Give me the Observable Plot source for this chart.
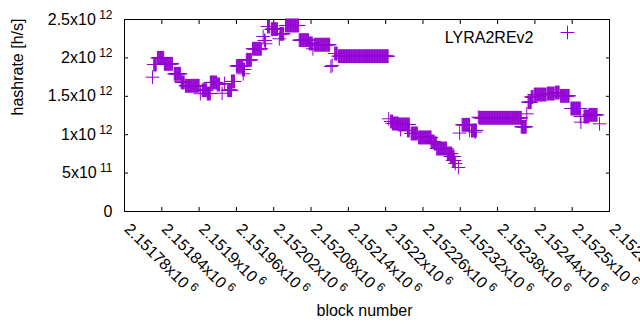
<!DOCTYPE html>
<html><head><meta charset="utf-8">
<script src="https://cdn.jsdelivr.net/npm/d3@7"></script>
<script src="https://cdn.jsdelivr.net/npm/@observablehq/plot@0.6"></script>
<style>
html,body{margin:0;padding:0;background:#fff;}
</style>
</head><body>
<div id="chart"></div>
<script>
// Series: runs of blocks sharing the same hashrate (first block, last block, hashrate in 1e12 h/s)
const seriesName = "LYRA2REv2";
const runFirst = [2151825,2151827,2151833,2151844,2151860,2151871,2151872,2151878,2151902,2151905,
                  2151913,2151918,2151929,2151937,2151941,2151946,2151952,2151960,2151970,2151971,
                  2151976,2151986,2152003,2152005,2152007,2152010,2152016,2152029,2152030,2152039,
                  2152061,2152077,2152083,2152085,2152112,2152114,2152118,2152124,2152205,2152208,
                  2152211,2152220,2152224,2152235,2152241,2152253,2152273,2152278,2152282,2152299,
                  2152304,2152308,2152312,2152317,2152319,2152323,2152335,2152338,2152344,2152349,
                  2152351,2152418,2152427,2152429,2152434,2152439,2152460,2152473,2152481,2152498,
                  2152513,2152514,2152519,2152527,2152544];
const runLast  = [2151825,2151831,2151843,2151857,2151870,2151871,2151876,2151900,2151902,2151912,
                  2151918,2151928,2151933,2151937,2151941,2151952,2151957,2151970,2151973,2151971,
                  2151984,2152000,2152003,2152006,2152007,2152013,2152026,2152029,2152036,2152060,
                  2152076,2152082,2152083,2152110,2152112,2152114,2152122,2152204,2152205,2152211,
                  2152220,2152238,2152224,2152238,2152251,2152273,2152278,2152282,2152298,2152306,
                  2152310,2152311,2152312,2152317,2152319,2152335,2152335,2152346,2152344,2152349,
                  2152418,2152426,2152427,2152434,2152437,2152458,2152471,2152479,2152495,2152513,
                  2152513,2152514,2152527,2152540,2152544];
const runHash  = [1.749,1.914,2.001,1.923,1.793,1.690,1.680,1.637,1.533,1.579,
                  1.536,1.680,1.654,1.540,1.667,1.579,1.693,1.895,1.849,1.793,
                  1.975,2.119,2.279,2.227,2.184,2.409,2.374,2.249,2.314,2.422,
                  2.231,2.188,2.119,2.172,1.888,1.902,2.057,2.022,1.207,1.172,
                  1.146,1.133,1.068,1.055,1.016,0.964,0.911,0.885,0.820,0.755,
                  0.716,0.664,0.625,0.573,1.022,1.129,1.055,1.055,1.033,1.228,
                  1.220,1.103,1.272,1.423,1.491,1.523,1.536,1.549,1.506,1.341,
                  1.237,1.163,1.237,1.259,1.142];

const xTicks = [2151780,2151840,2151900,2151960,2152020,2152080,2152140,
                2152200,2152260,2152320,2152380,2152440,2152500,2152560];
const yTicks = [0,5e11,1e12,1.5e12,2e12,2.5e12];
const xLabel = "block number";
const yLabel = "hashrate [h/s]";

const points = [];
runFirst.forEach((b0, i) => {
  for (let b = b0; b <= runLast[i]; b++) points.push({block: b, hashrate: runHash[i] * 1e12});
});

function sci(v) {
  if (v === 0) return "0";
  const e = Math.floor(Math.log10(v) + 1e-9);
  const m = +(v / Math.pow(10, e)).toFixed(6);
  return m + "x10^" + e;
}

const color = "#9400D3";
const chart = Plot.plot({
  width: 640, height: 330,
  marginLeft: 124, marginRight: 31, marginTop: 19, marginBottom: 119,
  style: {fontFamily: "'Liberation Sans', Arial, sans-serif", fontSize: "16px", color: "#000", background: "#fff"},
  x: {domain: [2151780, 2152560]},
  y: {domain: [0, 2.5e12]},
  marks: [
    Plot.axisY({ticks: yTicks, anchor: "left", tickSize: -4, tickFormat: () => "", label: null}),
    Plot.axisY({ticks: yTicks, anchor: "right", tickSize: -4, tickFormat: () => "", label: null}),
    Plot.axisX({ticks: xTicks, anchor: "bottom", tickSize: -4, tickFormat: () => "", label: null}),
    Plot.axisX({ticks: xTicks, anchor: "top", tickSize: -4, tickFormat: () => "", label: null}),
    Plot.axisY({ticks: yTicks, anchor: "left", tickSize: 0, tickPadding: 12, tickFormat: sci, label: null}),
    Plot.axisX({ticks: xTicks, anchor: "bottom", tickSize: 0, tickPadding: 15, tickRotate: 45,
                textAnchor: "start", lineAnchor: "middle", dx: 2.6, tickFormat: sci, label: null}),
    Plot.frame({stroke: "#000"}),
    Plot.dot(points, {x: "block", y: "hashrate", symbol: "plus", r: 4.5, stroke: color, strokeWidth: 1}),
    Plot.text([yLabel], {frameAnchor: "left", dx: -107, rotate: -90, text: d => d}),
    Plot.text([xLabel], {frameAnchor: "bottom", dy: 104, dx: -2.5, text: d => d}),
    Plot.text([seriesName], {frameAnchor: "top-right", textAnchor: "end", dx: -76, dy: 12, text: d => d}),
    Plot.dot([seriesName], {frameAnchor: "top-right", dx: -42, dy: 13, symbol: "plus", r: 4.5, stroke: color, strokeWidth: 1})
  ]
});

d3.select(chart).selectAll("text").each(function () {
  const t = this.textContent;
  if (t.includes("^")) {
    const [base, exp] = t.split("^");
    const sel = d3.select(this);
    sel.text(base);
    sel.append("tspan").attr("dy", -6).attr("font-size", "12px").text(" " + exp);
  }
});

document.getElementById("chart").appendChild(chart);
</script>
</body></html>
